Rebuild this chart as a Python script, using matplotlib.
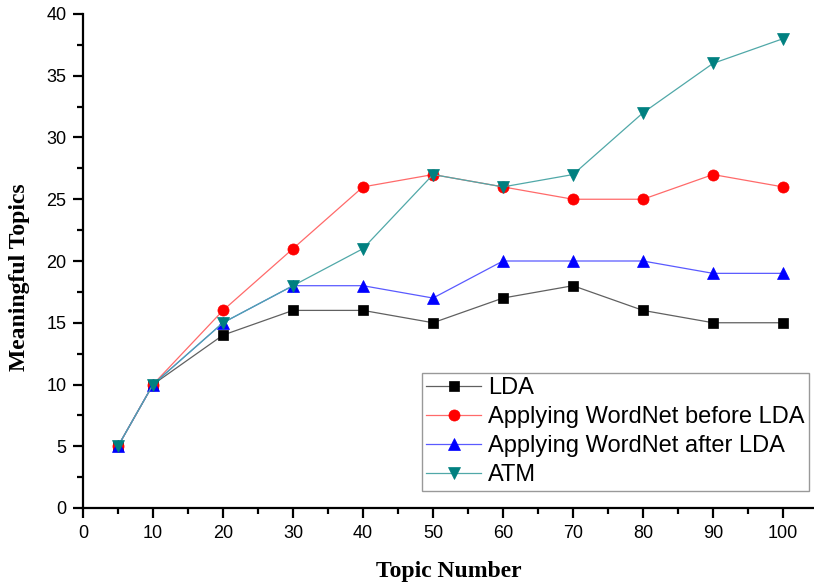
import matplotlib
matplotlib.use("Agg")
import matplotlib.pyplot as plt
from matplotlib.ticker import MultipleLocator

topic_number = [5, 10, 20, 30, 40, 50, 60, 70, 80, 90, 100]
lda = [5, 10, 14, 16, 16, 15, 17, 18, 16, 15, 15]
wordnet_before = [5, 10, 16, 21, 26, 27, 26, 25, 25, 27, 26]
wordnet_after = [5, 10, 15, 18, 18, 17, 20, 20, 20, 19, 19]
atm = [5, 10, 15, 18, 21, 27, 26, 27, 32, 36, 38]

# (values, label, marker, marker size, marker colour, line colour)
series = [
    (lda, "LDA", "s", 7.5, "black", "#606060"),
    (wordnet_before, "Applying WordNet before LDA", "o", 8, "red", "#ff6a6a"),
    (wordnet_after, "Applying WordNet after LDA", "^", 9, "blue", "#5a5aff"),
    (atm, "ATM", "v", 9, "#008080", "#50a8a8"),
]

plt.rcParams["font.family"] = ["Liberation Sans", "DejaVu Sans"]

fig = plt.figure(figsize=(8.14, 5.87), dpi=100)
ax = fig.add_axes([83 / 814, 79 / 587, 731.5 / 814, 494 / 587])

for vals, label, marker, msize, mcolor, lcolor in series:
    ax.plot(topic_number, vals, color=lcolor, linewidth=0.9,
            marker=marker, markersize=msize, markerfacecolor=mcolor,
            markeredgecolor=mcolor, markeredgewidth=0.5, label=label)

ax.set_xlim(0, 104.5)
ax.set_ylim(0, 40)
ax.set_xticks(range(0, 101, 10))
ax.set_yticks(range(0, 41, 5))
ax.xaxis.set_minor_locator(MultipleLocator(5))
ax.yaxis.set_minor_locator(MultipleLocator(2.5))

for side in ["top", "right"]:
    ax.spines[side].set_visible(False)
for side in ["left", "bottom"]:
    ax.spines[side].set_linewidth(1.6)

ax.tick_params(which="major", direction="out", length=7, width=1.6,
               labelsize=13, pad=5)
ax.tick_params(which="minor", direction="out", length=4, width=1.6)

ax.set_xlabel("Topic Number", family="Liberation Serif", fontweight="bold",
              fontsize=17)
ax.set_ylabel("Meaningful Topics", family="Liberation Serif", fontweight="bold",
              fontsize=17)
ax.xaxis.set_label_coords(0.5, -0.108)
ax.yaxis.set_label_coords(-0.073, 0.468)

leg = ax.legend(loc="lower right", bbox_to_anchor=(0.9925, 0.034), fontsize=17,
                frameon=True, fancybox=False, edgecolor="gray",
                handlelength=2.3, handletextpad=0.3, borderpad=0.2,
                labelspacing=0.3, borderaxespad=0)
leg.get_frame().set_linewidth(1.0)

fig.savefig("out.png", dpi=100)
